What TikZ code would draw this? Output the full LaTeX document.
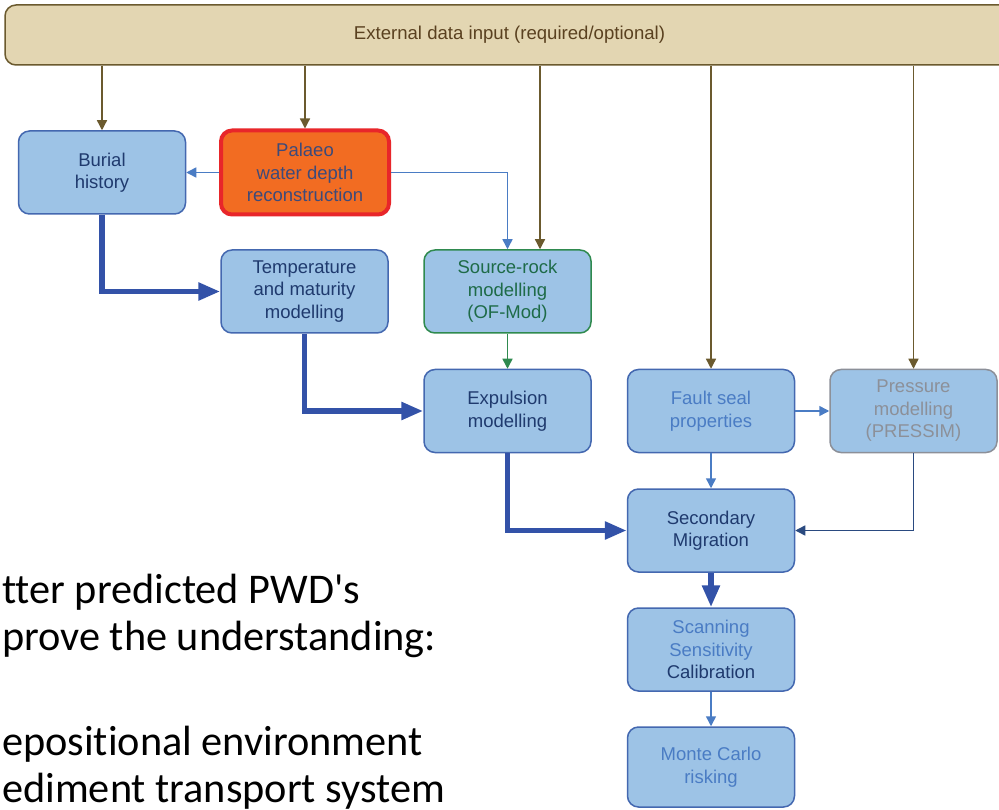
\documentclass[tikz,border=0pt]{standalone}
\usepackage{fontspec}
\setmainfont{Liberation Sans}
\newfontfamily\calib[Ligatures={TeXOff,NoCommon}]{Carlito}
\usetikzlibrary{arrows.meta}
\definecolor{barfill}{HTML}{E3D6B2}
\definecolor{barline}{HTML}{6B5A2E}
\definecolor{bartext}{HTML}{5A4120}
\definecolor{boxfill}{HTML}{9DC3E6}
\definecolor{boxline}{HTML}{4468B0}
\definecolor{navytext}{HTML}{1F3A6E}
\definecolor{lighttext}{HTML}{4A7CC4}
\definecolor{thinblue}{HTML}{4A7CC4}
\definecolor{thickblue}{HTML}{3352A8}
\definecolor{darknavy}{HTML}{2A4A80}
\definecolor{palfill}{HTML}{F26C22}
\definecolor{palline}{HTML}{E8262A}
\definecolor{paltext}{HTML}{3D4A7A}
\definecolor{greenline}{HTML}{2F8A4F}
\definecolor{greentext}{HTML}{1E6B48}
\definecolor{greyline}{HTML}{8C9099}
\begin{document}
\begin{tikzpicture}[x=1pt,y=-1pt,
  bar/.style={draw=barline, fill=barfill, line width=1.5pt, rounded corners=11pt,
    minimum width=1009pt, minimum height=60pt, inner sep=0pt, text=bartext,
    font=\fontsize{18.6}{22}\selectfont},
  box/.style={draw=boxline, fill=boxfill, line width=1.5pt, rounded corners=11pt,
    minimum width=167pt, minimum height=83pt, inner sep=0pt, align=center,
    text=navytext, font=\fontsize{18.5}{22.5}\selectfont},
  brownarrow/.style={draw=barline, line width=1.3pt, -{Triangle[length=10pt,width=10pt]}},
  thinarrow/.style={draw=thinblue, line width=1.5pt, -{Triangle[length=10pt,width=10pt]}},
  navyarrow/.style={draw=darknavy, line width=1.5pt, -{Triangle[length=10pt,width=10pt]}},
  greenarrow/.style={draw=greenline, line width=1.5pt, -{Triangle[length=10pt,width=10pt]}},
  thickarrow/.style={draw=thickblue, line width=5.5pt, -{Triangle[length=22pt,width=17pt]}},
  sidetext/.style={anchor=base west, inner sep=0pt, font=\calib\fontsize{42.3}{48}\selectfont, text=black}
]
\useasboundingbox (0,0) rectangle (999,810);
\fill[white] (0,0) rectangle (999,810);
\clip (0,0) rectangle (999,810);

% top bar
\node[bar] (ext) at (509.5,35) {External data input (required/optional)};

% boxes
\node[box] (burial) at (102,172.5) {Burial\\history};
\node[box, draw=palline, fill=palfill, line width=4pt, text=paltext,
  minimum width=168pt, minimum height=84pt] (palaeo) at (305,172.5)
  {Palaeo\\water depth\\reconstruction};
\node[box] (temp) at (304.5,291.5) {Temperature\\and maturity\\modelling};
\node[box, draw=greenline, text=greentext] (source) at (507.5,291.5)
  {Source-rock\\modelling\\(OF-Mod)};
\node[box] (expul) at (507.5,411) {Expulsion\\modelling};
\node[box, text=lighttext] (fault) at (711,411) {Fault seal\\properties};
\node[box, draw=greyline, text=greyline] (press) at (913.5,411)
  {Pressure\\modelling\\(PRESSIM)};
\node[box] (second) at (711,530.5) {Secondary\\Migration};
\node[box] (scan) at (711,649.5)
  {\textcolor{lighttext}{Scanning}\\\textcolor{lighttext}{Sensitivity}\\Calibration};
\node[box, text=lighttext, minimum height=80pt] (monte) at (711,767)
  {Monte Carlo\\risking};
\coordinate (srcin) at ([xshift=32.5pt]source.north);

% external inputs
\draw[brownarrow] (ext.south -| burial.north) -- (burial.north);
\draw[brownarrow] (ext.south -| palaeo.north) -- (palaeo.north);
\draw[brownarrow] (ext.south -| srcin) -- (srcin);
\draw[brownarrow] (ext.south -| fault.north) -- (fault.north);
\draw[brownarrow] (ext.south -| press.north) -- (press.north);

% thin connectors
\draw[thinarrow] (palaeo.west) -- (burial.east);
\draw[thinarrow] (palaeo.east) -| (source.north);
\draw[greenarrow] (source.south) -- (expul.north);
\draw[thinarrow] (fault.east) -- (press.west);
\draw[thinarrow] (fault.south) -- (second.north);
\draw[navyarrow] (press.south) |- (second.east);
\draw[thinarrow] (scan.south) -- (monte.north);

% thick connectors
\draw[thickarrow] (burial.south) |- (temp.west);
\draw[thickarrow] (temp.south) |- (expul.west);
\draw[thickarrow] (expul.south) |- (second.west);
\draw[thickarrow] (second.south) -- (scan.north);

% side text
\node[sidetext] (t1) at (2,603) {tter predicted PWD's};
\node[sidetext] (t2) at (2,650) {prove the understanding:};
\node[sidetext] (t3) at (2,755) {epositional environment};
\node[sidetext] (t4) at (2,802) {ediment transport system};
\end{tikzpicture}
\end{document}
